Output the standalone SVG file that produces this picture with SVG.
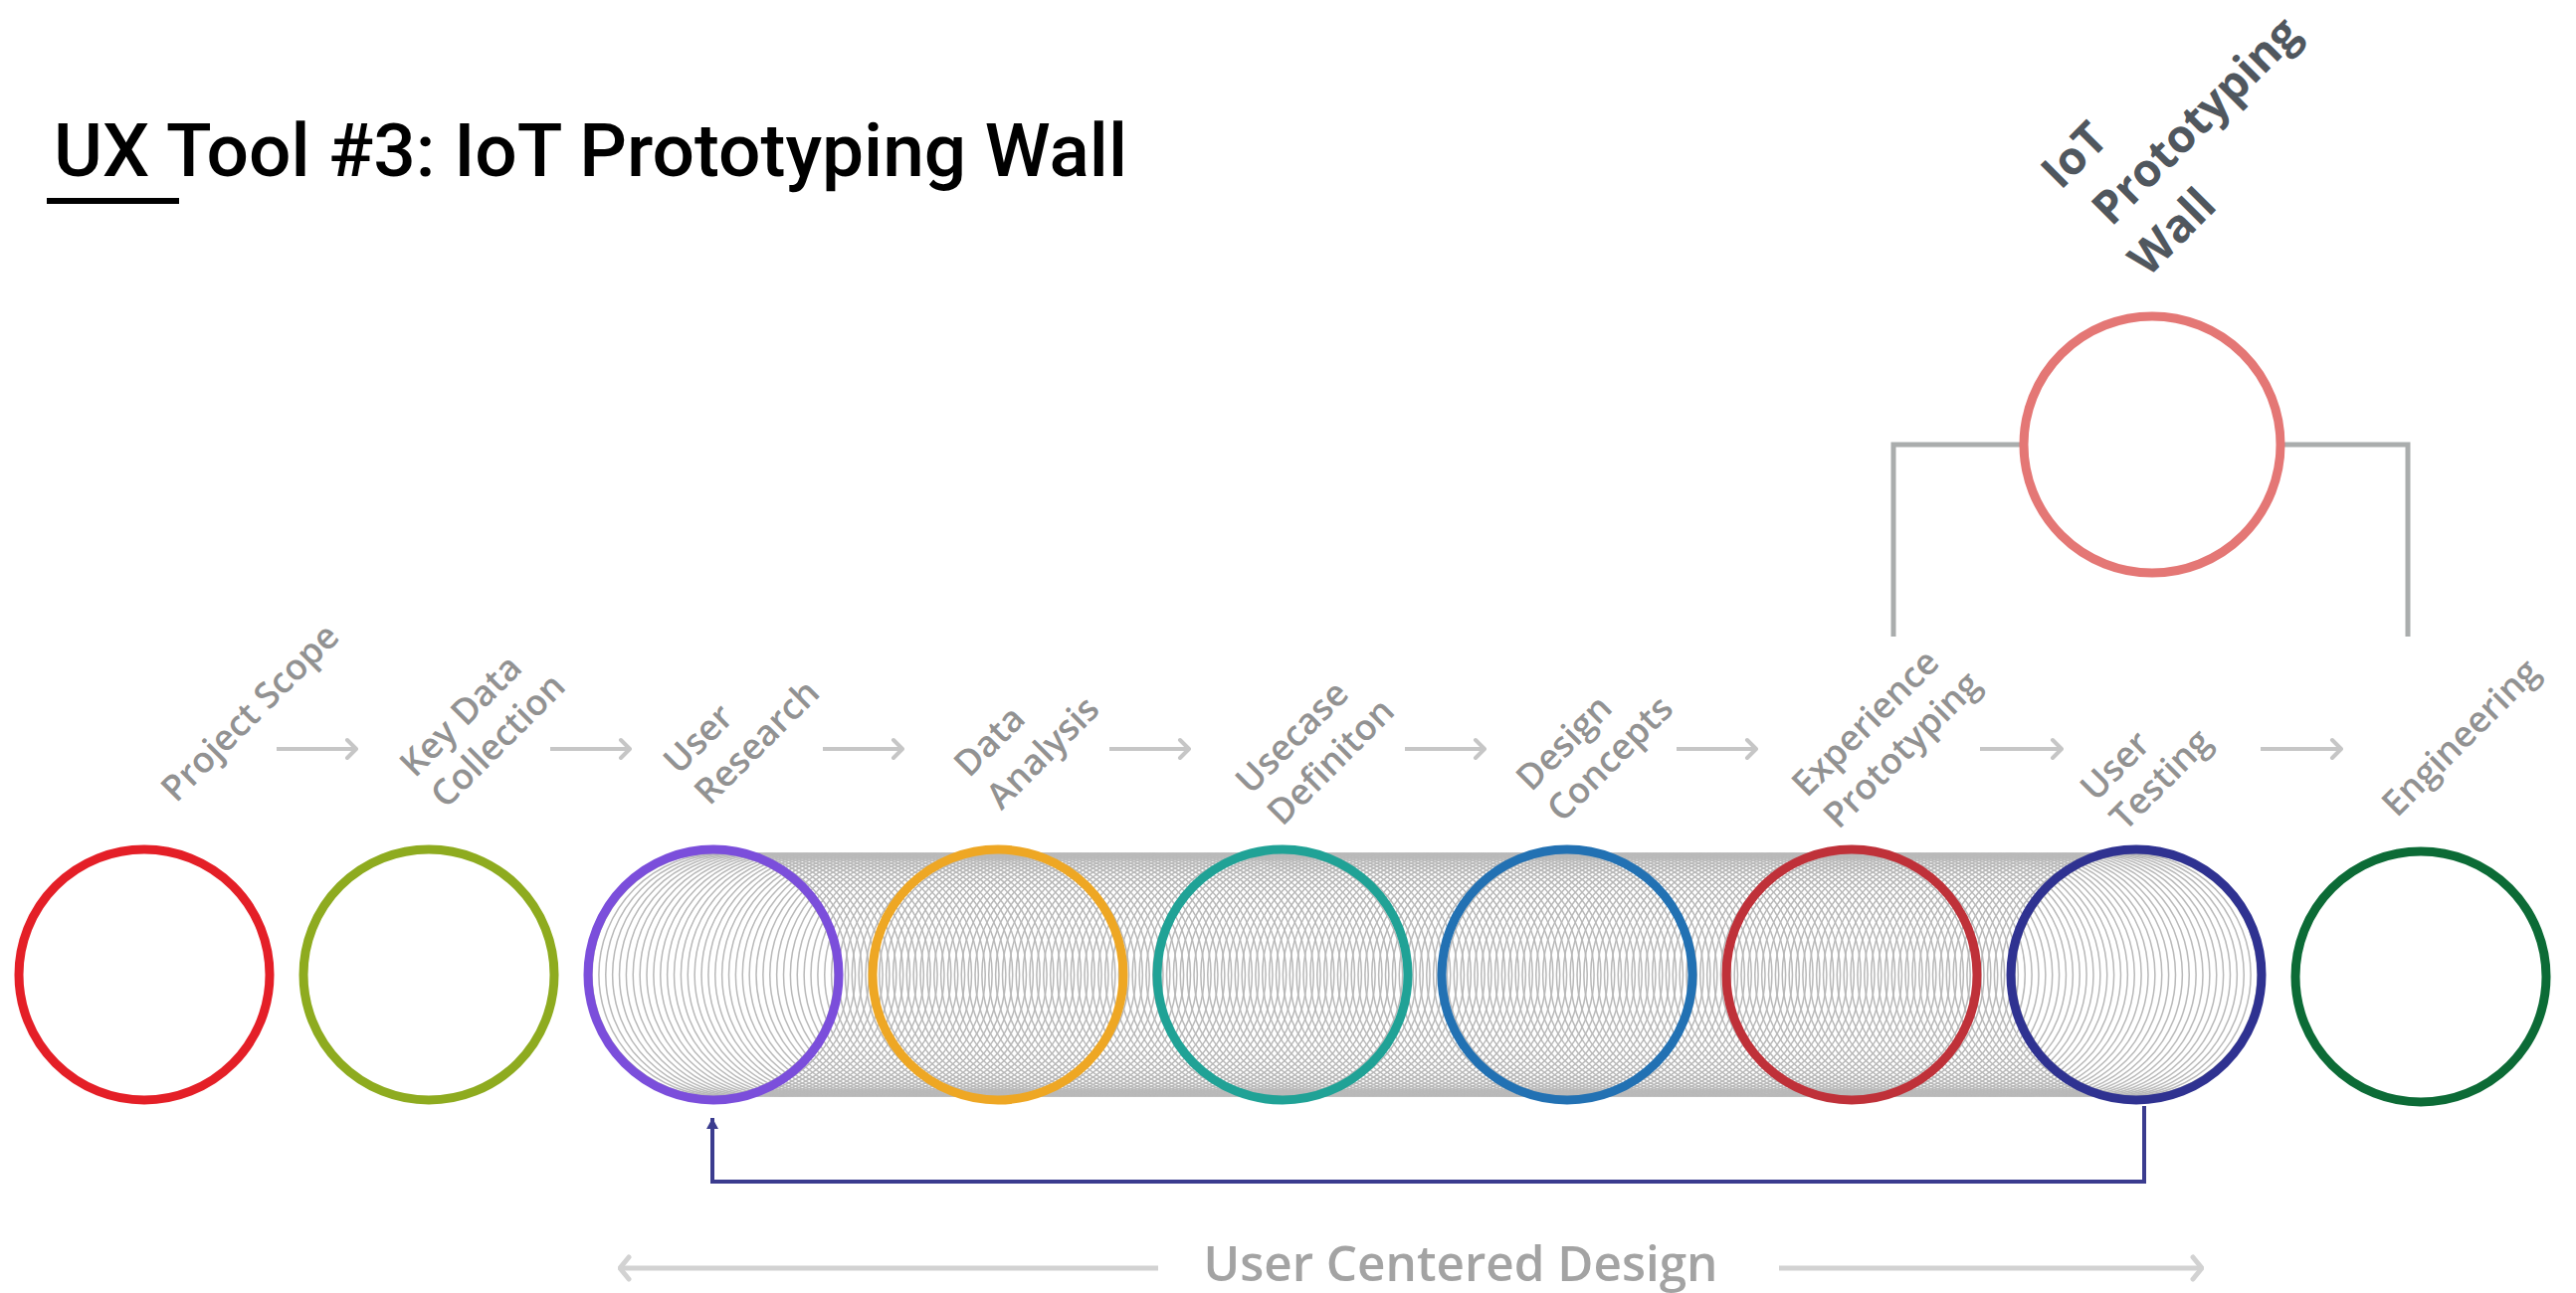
<svg xmlns="http://www.w3.org/2000/svg" width="2589" height="1300" viewBox="0 0 2589 1300">
<style>
.ring{fill:none;stroke-width:9}
.lbl{font-family:"Open Sans","DejaVu Sans",sans-serif;font-size:36px;font-weight:600;fill:#929292}
.step{fill:none;stroke:#c6c6c6;stroke-width:4;marker-end:url(#ah)}
.tube{fill:none;stroke:#b9b9b9;stroke-width:1.5}
</style>
<defs>
<marker id="ah" viewBox="-12 -12 14 24" refX="0" refY="0" markerWidth="14" markerHeight="24" markerUnits="userSpaceOnUse" orient="auto">
<path d="M-9,-9 L0,0 L-9,9" fill="none" stroke="#c6c6c6" stroke-width="4" stroke-linecap="round" stroke-linejoin="round"/>
</marker>
<marker id="ahBig" viewBox="-14 -14 16 28" refX="0" refY="0" markerWidth="16" markerHeight="28" markerUnits="userSpaceOnUse" orient="auto">
<path d="M-9,-11 L0,0 L-9,11" fill="none" stroke="#d2d2d2" stroke-width="5" stroke-linecap="round" stroke-linejoin="round"/>
</marker>
<marker id="ahNavy" viewBox="-12 -8 14 16" refX="0" refY="0" markerWidth="14" markerHeight="16" markerUnits="userSpaceOnUse" orient="auto">
<path d="M-11,-6 L0,0 L-11,6 Z" fill="#3b3c8f"/>
</marker>
<circle id="t0" class="tube" cx="717" cy="980" r="122"/>
<g id="t1"><use href="#t0"/><use href="#t0" x="6.875"/></g>
<g id="t2"><use href="#t1"/><use href="#t1" x="13.75"/></g>
<g id="t3"><use href="#t2"/><use href="#t2" x="27.5"/></g>
<g id="t4"><use href="#t3"/><use href="#t3" x="55"/></g>
<g id="t5"><use href="#t4"/><use href="#t4" x="110"/></g>
<g id="t6"><use href="#t5"/><use href="#t5" x="220"/></g>
<g id="t7"><use href="#t6"/><use href="#t6" x="440"/></g>
</defs>
<rect width="2589" height="1300" fill="#ffffff"/>

<g id="title">
<text x="54" y="177" font-family="Roboto,'DejaVu Sans Condensed',sans-serif" font-size="75" font-weight="500" fill="#000" textLength="1079" lengthAdjust="spacingAndGlyphs">UX Tool #3: IoT Prototyping Wall</text>
<rect x="47" y="199" width="133" height="6" fill="#000"/>
</g>

<g id="tube">
<use href="#t7"/>
<use href="#t6" x="880"/>
<use href="#t4" x="1320"/>
<use href="#t0" x="1430"/>
</g>

<g id="connectors">
<path class="step" d="M278,753 H358"/>
<path class="step" d="M553,753 H633"/>
<path class="step" d="M827,753 H907"/>
<path class="step" d="M1115,753 H1195"/>
<path class="step" d="M1412,753 H1492"/>
<path class="step" d="M1685,753 H1765"/>
<path class="step" d="M1990,753 H2072"/>
<path class="step" d="M2272,753 H2353"/>
<path d="M2155,1112 V1188 H716 V1124" fill="none" stroke="#3b3c8f" stroke-width="4" marker-end="url(#ahNavy)"/>
<path d="M1903,640 V447 H2034 M2292,447 H2420 V640" fill="none" stroke="#aaadad" stroke-width="5"/>
<path d="M1164,1275 H623" fill="none" stroke="#d2d2d2" stroke-width="5" marker-end="url(#ahBig)"/>
<path d="M1788,1275 H2213" fill="none" stroke="#d2d2d2" stroke-width="5" marker-end="url(#ahBig)"/>
</g>

<g id="ucd">
<text x="1468" y="1288" text-anchor="middle" font-family="'Open Sans','DejaVu Sans',sans-serif" font-size="48" font-weight="600" fill="#a3a3a3" textLength="517" lengthAdjust="spacingAndGlyphs">User Centered Design</text>
</g>

<g id="iot-wall">
<circle class="ring" cx="2163" cy="447" r="129" stroke="#e47775"/>
<text transform="translate(2071,192) rotate(-45)" font-family="'Open Sans','DejaVu Sans',sans-serif" font-size="46" font-weight="700" fill="#50575e"><tspan x="0" y="0">IoT</tspan><tspan x="10" y="62">Prototyping</tspan><tspan x="0" y="124">Wall</tspan></text>
</g>

<g id="project-scope">
<circle class="ring" cx="145" cy="980" r="126" stroke="#e41f27"/>
<text class="lbl" transform="translate(177,808) rotate(-45)">Project Scope</text>
</g>
<g id="key-data">
<circle class="ring" cx="431" cy="980" r="126" stroke="#8eab1f"/>
<text class="lbl" transform="translate(417,783) rotate(-45)"><tspan x="0" y="0">Key Data</tspan><tspan x="0" y="44">Collection</tspan></text>
</g>
<g id="user-research">
<circle class="ring" cx="717" cy="980" r="126" stroke="#7b4edb"/>
<text class="lbl" transform="translate(682,780) rotate(-45)"><tspan x="0" y="0">User</tspan><tspan x="0" y="44">Research</tspan></text>
</g>
<g id="data-analysis">
<circle class="ring" cx="1003" cy="980" r="126" stroke="#eea724"/>
<text class="lbl" transform="translate(974,783) rotate(-45)"><tspan x="0" y="0">Data</tspan><tspan x="0" y="46">Analysis</tspan></text>
</g>
<g id="usecase">
<circle class="ring" cx="1289" cy="980" r="126" stroke="#20a296"/>
<text class="lbl" transform="translate(1257,800) rotate(-45)"><tspan x="0" y="0">Usecase</tspan><tspan x="0" y="45">Definiton</tspan></text>
</g>
<g id="design-concepts">
<circle class="ring" cx="1575" cy="980" r="126" stroke="#2271b3"/>
<text class="lbl" transform="translate(1539,797) rotate(-45)"><tspan x="0" y="0">Design</tspan><tspan x="0" y="44">Concepts</tspan></text>
</g>
<g id="experience-prototyping">
<circle class="ring" cx="1861" cy="980" r="126" stroke="#bf3139"/>
<text class="lbl" transform="translate(1816,803) rotate(-45)"><tspan x="0" y="0">Experience</tspan><tspan x="0" y="45">Prototyping</tspan></text>
</g>
<g id="user-testing">
<circle class="ring" cx="2147" cy="980" r="126" stroke="#2f3291"/>
<text class="lbl" transform="translate(2106,807) rotate(-45)"><tspan x="0" y="0">User</tspan><tspan x="0" y="42">Testing</tspan></text>
</g>
<g id="engineering">
<circle class="ring" cx="2433" cy="982" r="126" stroke="#0c6b36"/>
<text class="lbl" transform="translate(2409,823) rotate(-45)">Engineering</text>
</g>
</svg>
